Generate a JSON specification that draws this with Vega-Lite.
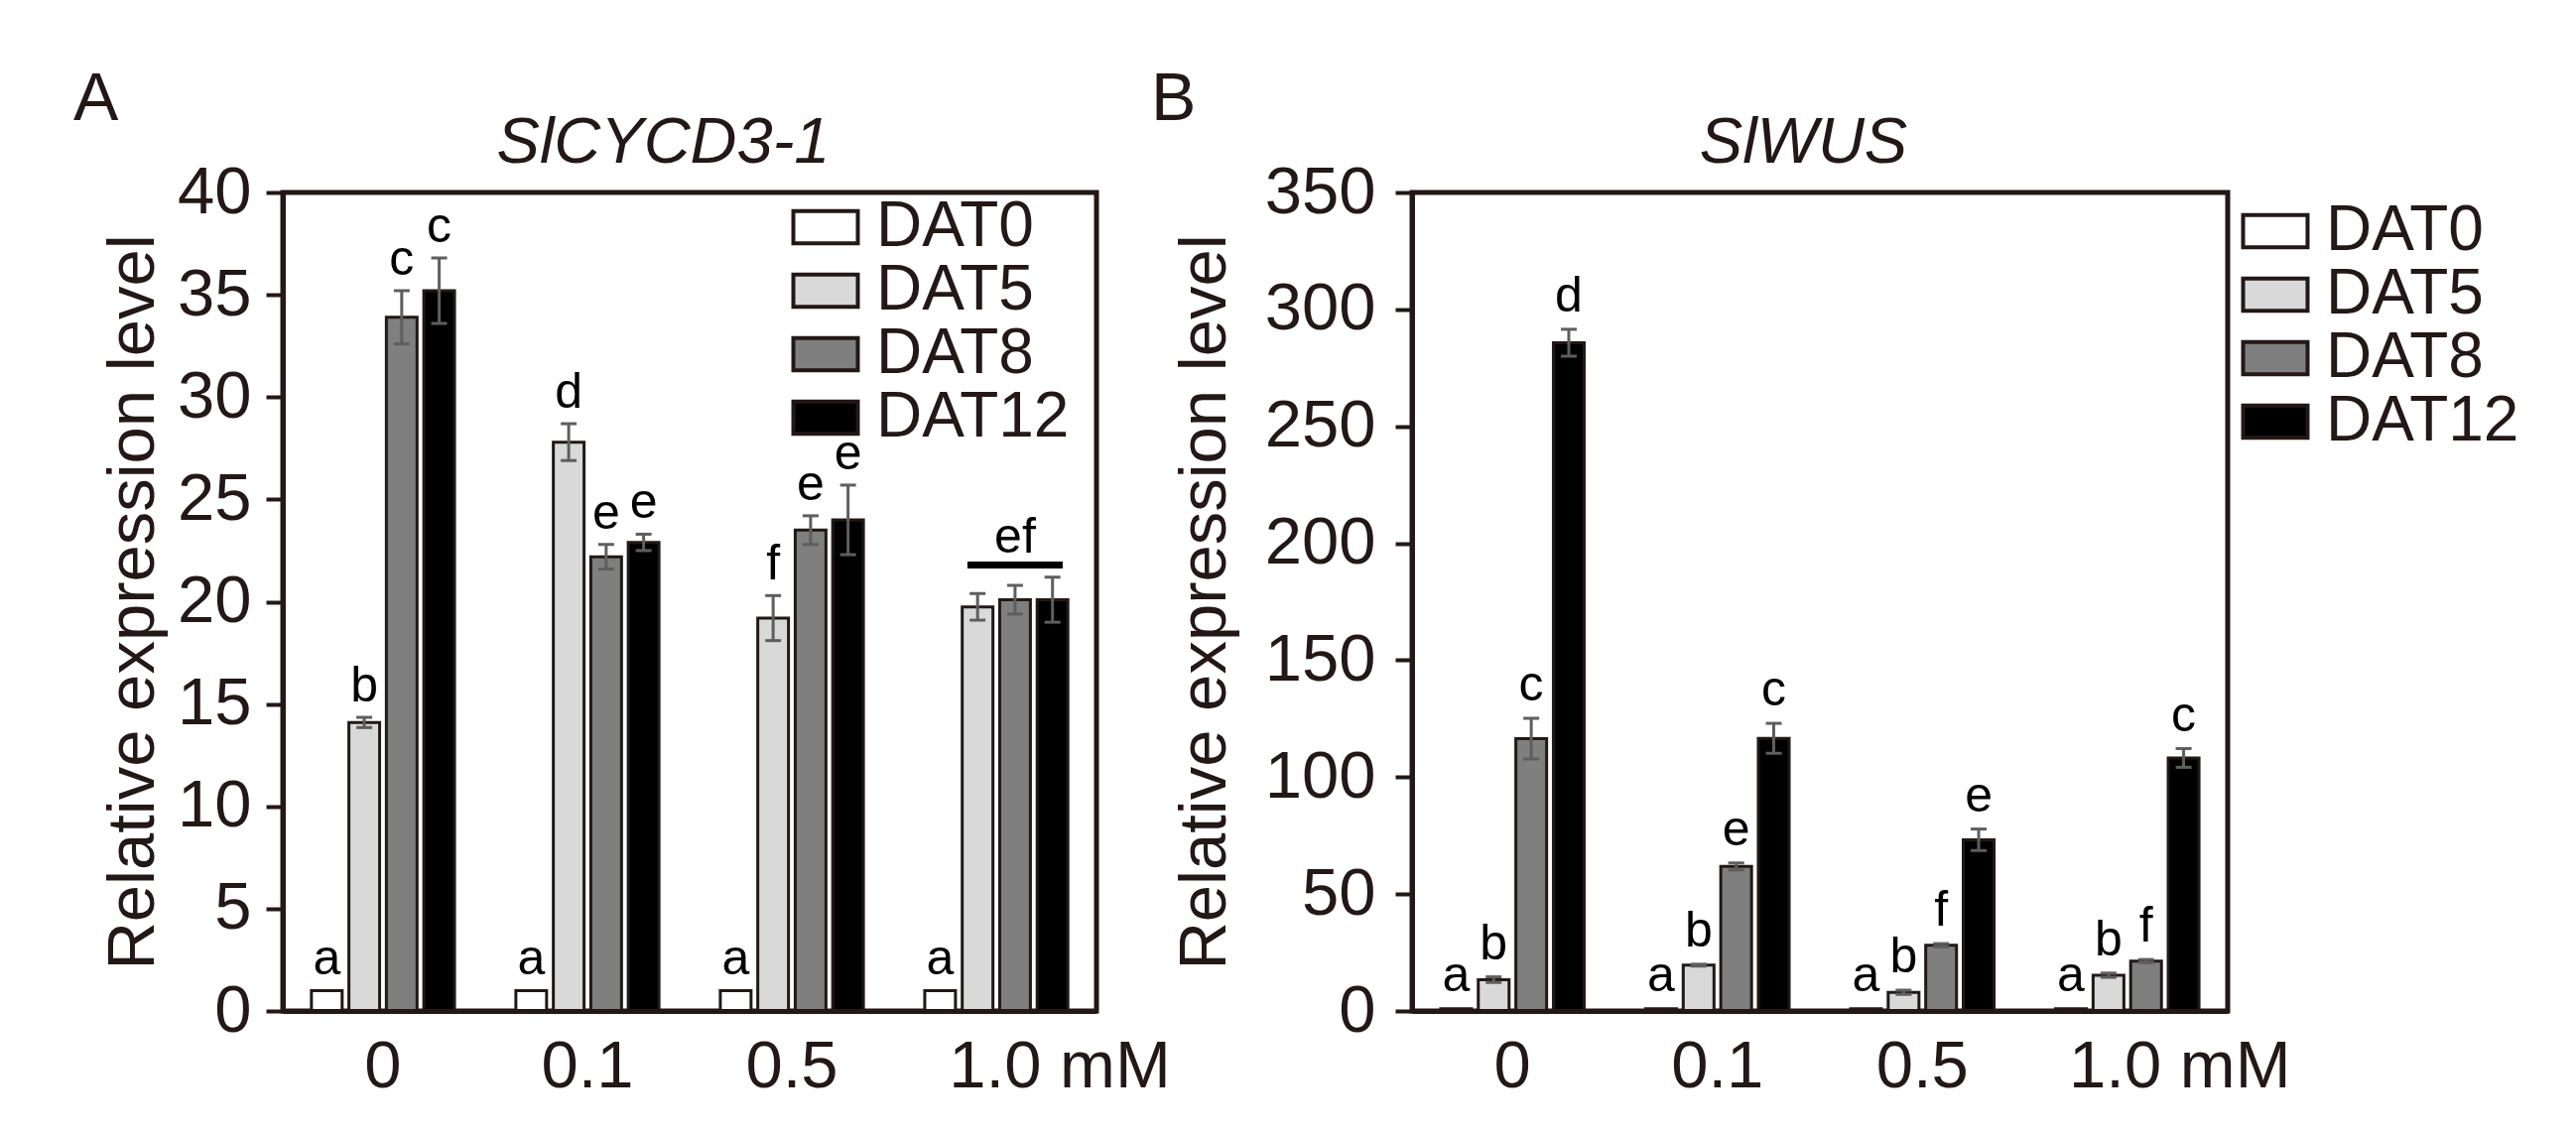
{
  "$schema": "https://vega.github.io/schema/vega-lite/v6.json",
  "description": "Relative expression of SlCYCD3-1 and SlWUS at four concentrations, DAT0 to DAT12.",
  "background": "white",
  "padding": {"left": 71, "top": 64, "right": 5, "bottom": 5},
  "datasets": {
    "cycd": [
      {"conc": "0", "series": "DAT0", "mean": 1, "lo": 1, "hi": 1, "letter": "a"},
      {"conc": "0", "series": "DAT5", "mean": 14.1, "lo": 13.85, "hi": 14.35, "letter": "b"},
      {"conc": "0", "series": "DAT8", "mean": 33.9, "lo": 32.6, "hi": 35.2, "letter": "c"},
      {"conc": "0", "series": "DAT12", "mean": 35.2, "lo": 33.6, "hi": 36.8, "letter": "c"},
      {"conc": "0.1", "series": "DAT0", "mean": 1, "lo": 1, "hi": 1, "letter": "a"},
      {"conc": "0.1", "series": "DAT5", "mean": 27.8, "lo": 26.9, "hi": 28.7, "letter": "d"},
      {"conc": "0.1", "series": "DAT8", "mean": 22.2, "lo": 21.6, "hi": 22.8, "letter": "e"},
      {"conc": "0.1", "series": "DAT12", "mean": 22.9, "lo": 22.5, "hi": 23.3, "letter": "e"},
      {"conc": "0.5", "series": "DAT0", "mean": 1, "lo": 1, "hi": 1, "letter": "a"},
      {"conc": "0.5", "series": "DAT5", "mean": 19.2, "lo": 18.1, "hi": 20.3, "letter": "f"},
      {"conc": "0.5", "series": "DAT8", "mean": 23.5, "lo": 22.8, "hi": 24.2, "letter": "e"},
      {"conc": "0.5", "series": "DAT12", "mean": 24.0, "lo": 22.3, "hi": 25.7, "letter": "e"},
      {"conc": "1.0", "series": "DAT0", "mean": 1, "lo": 1, "hi": 1, "letter": "a"},
      {"conc": "1.0", "series": "DAT5", "mean": 19.75, "lo": 19.1, "hi": 20.4, "letter": ""},
      {"conc": "1.0", "series": "DAT8", "mean": 20.1, "lo": 19.4, "hi": 20.8, "letter": ""},
      {"conc": "1.0", "series": "DAT12", "mean": 20.1, "lo": 19.0, "hi": 21.2, "letter": ""}
    ],
    "cycdGroup": [
      {"conc": "1.0", "series": "DAT8", "y": 21.8, "label": "ef"}
    ],
    "wus": [
      {"conc": "0", "series": "DAT0", "mean": 1, "lo": 1, "hi": 1, "letter": "a"},
      {"conc": "0", "series": "DAT5", "mean": 13.4, "lo": 12.2, "hi": 14.6, "letter": "b"},
      {"conc": "0", "series": "DAT8", "mean": 116.5, "lo": 107.8, "hi": 125.2, "letter": "c"},
      {"conc": "0", "series": "DAT12", "mean": 285.7, "lo": 280, "hi": 291.5, "letter": "d"},
      {"conc": "0.1", "series": "DAT0", "mean": 1, "lo": 1, "hi": 1, "letter": "a"},
      {"conc": "0.1", "series": "DAT5", "mean": 19.6, "lo": 19.2, "hi": 20.0, "letter": "b"},
      {"conc": "0.1", "series": "DAT8", "mean": 61.8, "lo": 60.3, "hi": 63.3, "letter": "e"},
      {"conc": "0.1", "series": "DAT12", "mean": 116.6, "lo": 110.2, "hi": 123, "letter": "c"},
      {"conc": "0.5", "series": "DAT0", "mean": 1, "lo": 1, "hi": 1, "letter": "a"},
      {"conc": "0.5", "series": "DAT5", "mean": 8, "lo": 7.1, "hi": 8.9, "letter": "b"},
      {"conc": "0.5", "series": "DAT8", "mean": 28.1, "lo": 27.4, "hi": 28.8, "letter": "f"},
      {"conc": "0.5", "series": "DAT12", "mean": 73.2, "lo": 68.6, "hi": 77.8, "letter": "e"},
      {"conc": "1.0", "series": "DAT0", "mean": 1, "lo": 1, "hi": 1, "letter": "a"},
      {"conc": "1.0", "series": "DAT5", "mean": 15.3, "lo": 14.4, "hi": 16.2, "letter": "b"},
      {"conc": "1.0", "series": "DAT8", "mean": 21.3, "lo": 20.6, "hi": 22, "letter": "f"},
      {"conc": "1.0", "series": "DAT12", "mean": 108.2, "lo": 104.2, "hi": 112.2, "letter": "c"}
    ]
  },
  "bounds": "flush",
  "spacing": 318,
  "hconcat": [
    {
      "width": 820,
      "height": 825,
      "title": {"text": "A", "anchor": "start", "frame": "group", "dx": -211, "offset": -24, "fontSize": 68},
      "data": {"name": "cycd"},
      "encoding": {
        "x": {
          "field": "conc", "type": "nominal", "sort": ["0", "0.1", "0.5", "1.0"],
          "scale": {"paddingInner": 0.3, "paddingOuter": 0.14},
          "axis": null
        },
        "xOffset": {
          "field": "series", "type": "nominal", "sort": ["DAT0", "DAT5", "DAT8", "DAT12"],
          "scale": {"paddingInner": 0.18, "paddingOuter": 0}
        }
      },
      "layer": [
        {
          "mark": {"type": "bar", "stroke": "#231815", "strokeWidth": 3},
          "encoding": {
            "x": {
              "field": "conc", "type": "nominal", "sort": ["0", "0.1", "0.5", "1.0"],
              "axis": {
                "title": null, "labelAngle": 0, "ticks": false, "tickSize": 0,
                "domainWidth": 5, "labelPadding": 23, "zindex": 1,
                "labelExpr": "datum.value == '1.0' ? '1.0 mM' : datum.value",
                "labelOffset": {"condition": {"test": "datum.value == '1.0'", "value": 64}, "value": 0}
              }
            },
            "y": {
              "field": "mean", "type": "quantitative", "scale": {"domain": [0, 40]},
              "axis": {"values": [0, 5, 10, 15, 20, 25, 30, 35, 40], "title": "Relative expression level", "titlePadding": 10, "labelPadding": 15}
            },
            "color": {
              "field": "series", "type": "nominal",
              "scale": {"domain": ["DAT0", "DAT5", "DAT8", "DAT12"], "range": ["#ffffff", "#d9d9d9", "#7f7f7f", "#000000"]},
              "legend": {"orient": "none", "legendX": 515, "legendY": 3}
            }
          }
        },
        {
          "transform": [{"filter": "datum.hi > datum.lo"}],
          "mark": {"type": "rule", "color": "#5e5e5e", "strokeWidth": 3},
          "encoding": {
            "y": {"field": "lo", "type": "quantitative"},
            "y2": {"field": "hi"}
          }
        },
        {
          "transform": [{"filter": "datum.hi > datum.lo"}],
          "mark": {"type": "tick", "color": "#5e5e5e", "opacity": 1, "size": 16, "thickness": 3},
          "encoding": {"y": {"field": "lo", "type": "quantitative"}}
        },
        {
          "transform": [{"filter": "datum.hi > datum.lo"}],
          "mark": {"type": "tick", "color": "#5e5e5e", "opacity": 1, "size": 16, "thickness": 3},
          "encoding": {"y": {"field": "hi", "type": "quantitative"}}
        },
        {
          "mark": {"type": "text", "baseline": "alphabetic", "dy": -16, "fontSize": 50, "color": "#000000"},
          "encoding": {
            "x": {
              "field": "conc", "type": "nominal", "sort": ["0", "0.1", "0.5", "1.0"],
              "axis": {"orient": "top", "title": "SlCYCD3-1", "titleFontStyle": "italic", "titleFontSize": 65, "titlePadding": 17, "titleX": 383, "titleAlign": "center", "labels": false, "ticks": false, "domain": false}
            },
            "y": {"field": "hi", "type": "quantitative"},
            "text": {"field": "letter"}
          }
        },
        {
          "data": {"name": "cycdGroup"},
          "mark": {"type": "tick", "orient": "horizontal", "size": 96, "thickness": 7, "color": "#000000", "opacity": 1},
          "encoding": {"y": {"field": "y", "type": "quantitative"}}
        },
        {
          "data": {"name": "cycdGroup"},
          "mark": {"type": "text", "baseline": "alphabetic", "dy": -12, "fontSize": 50, "color": "#000000"},
          "encoding": {
            "y": {"field": "y", "type": "quantitative"},
            "text": {"field": "label"}
          }
        }
      ],
      "resolve": {"axis": {"x": "independent"}}
    },
    {
      "width": 822,
      "height": 825,
      "title": {"text": "B", "anchor": "start", "frame": "group", "dx": -263, "offset": -24, "fontSize": 68},
      "data": {"name": "wus"},
      "encoding": {
        "x": {
          "field": "conc", "type": "nominal", "sort": ["0", "0.1", "0.5", "1.0"],
          "scale": {"paddingInner": 0.3, "paddingOuter": 0.14},
          "axis": null
        },
        "xOffset": {
          "field": "series", "type": "nominal", "sort": ["DAT0", "DAT5", "DAT8", "DAT12"],
          "scale": {"paddingInner": 0.18, "paddingOuter": 0}
        }
      },
      "layer": [
        {
          "mark": {"type": "bar", "stroke": "#231815", "strokeWidth": 3},
          "encoding": {
            "x": {
              "field": "conc", "type": "nominal", "sort": ["0", "0.1", "0.5", "1.0"],
              "axis": {
                "title": null, "labelAngle": 0, "ticks": false, "tickSize": 0,
                "domainWidth": 5, "labelPadding": 23, "zindex": 1,
                "labelExpr": "datum.value == '1.0' ? '1.0 mM' : datum.value",
                "labelOffset": {"condition": {"test": "datum.value == '1.0'", "value": 53}, "value": 0}
              }
            },
            "y": {
              "field": "mean", "type": "quantitative", "scale": {"domain": [0, 350]},
              "axis": {"values": [0, 50, 100, 150, 200, 250, 300, 350], "title": "Relative expression level", "titlePadding": 26, "labelPadding": 20}
            },
            "color": {
              "field": "series", "type": "nominal",
              "scale": {"domain": ["DAT0", "DAT5", "DAT8", "DAT12"], "range": ["#ffffff", "#d9d9d9", "#7f7f7f", "#000000"]},
              "legend": {"orient": "none", "legendX": 838, "legendY": 7}
            }
          }
        },
        {
          "transform": [{"filter": "datum.hi > datum.lo"}],
          "mark": {"type": "rule", "color": "#5e5e5e", "strokeWidth": 3},
          "encoding": {
            "y": {"field": "lo", "type": "quantitative"},
            "y2": {"field": "hi"}
          }
        },
        {
          "transform": [{"filter": "datum.hi > datum.lo"}],
          "mark": {"type": "tick", "color": "#5e5e5e", "opacity": 1, "size": 16, "thickness": 3},
          "encoding": {"y": {"field": "lo", "type": "quantitative"}}
        },
        {
          "transform": [{"filter": "datum.hi > datum.lo"}],
          "mark": {"type": "tick", "color": "#5e5e5e", "opacity": 1, "size": 16, "thickness": 3},
          "encoding": {"y": {"field": "hi", "type": "quantitative"}}
        },
        {
          "mark": {"type": "text", "baseline": "alphabetic", "dy": -18, "fontSize": 50, "color": "#000000"},
          "encoding": {
            "x": {
              "field": "conc", "type": "nominal", "sort": ["0", "0.1", "0.5", "1.0"],
              "axis": {"orient": "top", "title": "SlWUS", "titleFontStyle": "italic", "titleFontSize": 65, "titlePadding": 17, "titleX": 394, "titleAlign": "center", "labels": false, "ticks": false, "domain": false}
            },
            "y": {"field": "hi", "type": "quantitative"},
            "text": {"field": "letter"}
          }
        }
      ],
      "resolve": {"axis": {"x": "independent"}}
    }
  ],
  "resolve": {
    "scale": {"y": "independent", "x": "independent", "xOffset": "independent", "color": "independent"},
    "legend": {"color": "independent"}
  },
  "config": {
    "font": "Liberation Sans",
    "view": {"stroke": "#231815", "strokeWidth": 5},
    "title": {"color": "#231815", "fontWeight": "normal", "font": "Liberation Sans"},
    "axis": {
      "grid": false,
      "domainColor": "#231815",
      "domainWidth": 5,
      "tickColor": "#231815",
      "tickSize": 17,
      "tickWidth": 4,
      "labelColor": "#231815",
      "labelFontSize": 67,
      "labelFont": "Liberation Sans",
      "labelLimit": 500,
      "labelBound": false,
      "labelOverlap": false,
      "labelFlush": false,
      "titleColor": "#231815",
      "titleFontSize": 67,
      "titleFontWeight": "normal",
      "titleFont": "Liberation Sans",
      "zindex": 1
    },
    "legend": {
      "title": null,
      "padding": 0,
      "symbolType": "M-2,-1H2V1H-2Z",
      "symbolSize": 1056,
      "symbolStrokeColor": "#231815",
      "symbolStrokeWidth": 4,
      "labelFontSize": 64,
      "labelLimit": 600,
      "labelFont": "Liberation Sans",
      "labelColor": "#231815",
      "labelOffset": 19,
      "rowPadding": 0
    }
  }
}
